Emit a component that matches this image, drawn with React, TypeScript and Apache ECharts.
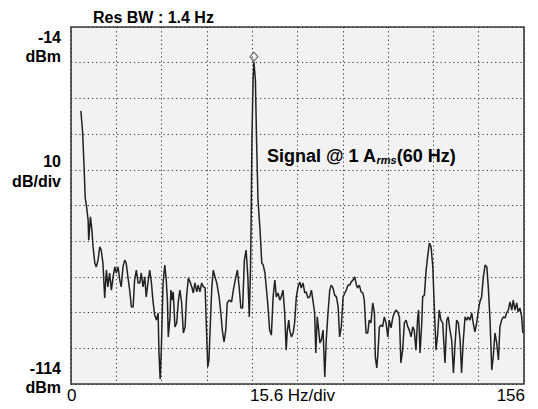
import React, { useEffect, useRef } from "react";
import * as echarts from "echarts";

// Spectrum trace: [frequency (Hz), level (dBm)]
const traceLow: [number, number][] = [
  [3.4, -37.5], [4.0, -43.4], [4.5, -53.2], [4.9, -61.9], [5.3, -63.9], [5.9, -68.1],
  [6.1, -73.7], [6.7, -67.2], [7.2, -70.9], [7.6, -75.6], [8.2, -80.1], [8.7, -81.2],
  [9.3, -79.3], [9.9, -75.6], [10.4, -76.5], [11.0, -80.1], [11.6, -89.9], [12.2, -82.1],
  [12.7, -86.8], [13.3, -82.9], [13.9, -87.7], [14.5, -84.0], [15.1, -81.2], [15.6, -82.9],
  [16.2, -81.2], [16.8, -84.9], [17.3, -86.8], [17.9, -81.2], [18.5, -79.3], [19.0, -80.1],
  [19.6, -84.0], [20.2, -87.7], [20.8, -92.4], [21.4, -92.4], [21.9, -84.9], [22.5, -82.1],
  [23.1, -85.7], [23.7, -85.7], [24.2, -82.9], [24.8, -86.8], [25.4, -84.0], [25.9, -89.6],
  [26.5, -85.7], [27.1, -82.1], [27.7, -85.7], [28.2, -90.5], [28.8, -94.7], [29.4, -96.1],
  [30.0, -94.1], [30.3, -105.3], [30.7, -112.6], [31.1, -104.5], [31.7, -85.7], [32.3, -80.7],
  [32.8, -84.9], [33.2, -90.5], [33.5, -100.8], [34.1, -95.2], [34.4, -87.7], [34.9, -90.5],
  [35.2, -88.2], [35.8, -98.0], [36.4, -96.9], [37.0, -90.5], [37.5, -87.7], [38.1, -91.3],
  [38.7, -99.7], [39.3, -98.0], [39.8, -89.6], [40.4, -84.3], [41.0, -85.4], [41.6, -86.8],
  [42.1, -88.5], [42.7, -85.7], [43.3, -88.2], [43.8, -86.3], [44.4, -88.2], [45.0, -85.7],
  [45.6, -86.8], [46.2, -87.1], [46.7, -99.7], [47.1, -109.2], [47.5, -107.3], [47.9, -98.9],
  [48.5, -86.8], [49.0, -82.1], [49.6, -84.0], [50.2, -85.7], [51.0, -89.6], [51.6, -94.1],
  [52.1, -98.9], [52.7, -102.2], [53.3, -98.9], [53.8, -91.3], [54.5, -90.5], [55.3, -91.0],
  [55.9, -87.7], [56.7, -84.3], [57.3, -82.1], [57.9, -86.8], [58.5, -92.7], [59.1, -92.7],
  [59.7, -79.3], [60.3, -76.5], [60.9, -84.0], [61.4, -95.2],
];

const traceCarrier: [number, number][] = [
  [61.8, -82.1], [62.0, -70.9], [62.3, -45.7], [62.7, -28.8], [63.0, -23.8], [63.5, -28.8],
  [63.9, -45.7], [64.4, -62.5], [65.1, -70.9], [65.7, -80.1], [66.2, -80.7], [66.8, -82.9],
];

const traceHigh: [number, number][] = [
  [67.8, -91.9], [68.4, -98.9], [69.0, -100.3], [69.6, -89.6], [70.2, -84.9], [70.7, -89.6],
  [71.3, -88.5], [71.9, -90.5], [72.4, -89.6], [73.0, -87.7], [73.6, -94.1], [74.1, -104.5],
  [74.5, -98.9], [75.0, -96.1], [75.3, -98.9], [75.9, -100.8], [76.5, -99.7], [77.0, -96.9],
  [77.6, -89.6], [78.2, -86.8], [78.8, -85.4], [79.3, -87.1], [79.9, -85.7], [80.5, -88.5],
  [81.0, -88.2], [81.6, -89.9], [82.2, -89.6], [82.8, -87.7], [83.3, -90.5], [83.9, -94.1],
  [84.3, -105.3], [84.8, -95.2], [85.3, -98.9], [85.7, -102.5], [86.2, -101.7], [86.8, -98.9],
  [87.4, -112.0], [87.9, -101.7], [88.5, -94.1], [89.1, -87.7], [89.6, -86.3], [90.2, -87.1],
  [90.8, -89.1], [91.4, -89.6], [92.0, -92.4], [92.5, -100.8], [93.1, -98.0], [93.7, -89.6],
  [94.3, -88.5], [94.8, -87.7], [95.4, -86.3], [96.0, -86.3], [96.5, -85.4], [97.1, -84.9],
  [97.7, -84.0], [98.3, -86.3], [98.7, -87.1], [99.3, -86.3], [99.9, -88.2], [100.5, -88.5],
  [101.0, -90.5], [101.6, -99.7], [102.2, -99.7], [102.7, -96.1], [103.3, -96.9], [103.9, -91.3],
  [104.5, -94.1], [104.8, -106.4], [105.3, -109.5], [105.7, -105.3], [106.2, -98.0], [106.8, -97.5],
  [107.3, -98.0], [107.9, -95.2], [108.5, -96.9], [109.1, -100.8], [109.6, -96.1], [110.2, -98.3],
  [110.8, -95.5], [111.3, -94.1], [111.9, -93.3], [112.5, -93.8], [113.1, -95.2], [113.6, -108.1],
  [114.2, -104.5], [114.8, -96.9], [115.4, -96.1], [116.0, -98.0], [116.5, -98.9], [117.1, -100.8],
  [117.7, -98.0], [118.2, -98.9], [118.8, -104.5], [119.4, -95.2], [119.7, -93.3], [120.2, -105.3],
  [120.8, -96.9], [121.1, -89.6], [121.7, -89.1], [122.3, -82.1], [122.8, -78.4], [123.4, -74.5],
  [124.0, -75.6], [124.6, -81.2], [125.1, -92.4], [125.7, -104.5], [126.3, -99.7], [126.8, -93.3],
  [127.4, -96.1], [128.0, -96.9], [128.6, -105.3], [128.8, -108.1], [129.4, -96.1], [129.9, -95.2],
  [130.5, -98.9], [131.1, -101.7], [131.7, -110.9], [132.2, -103.6], [132.8, -96.1], [133.4, -96.9],
  [134.0, -101.7], [134.5, -110.9], [135.1, -101.7], [135.7, -95.2], [136.3, -96.1], [136.8, -95.2],
  [137.4, -96.1], [138.0, -94.1], [138.5, -96.9], [139.1, -99.4], [139.7, -96.9], [140.3, -93.3],
  [140.8, -91.0], [141.4, -89.6], [142.0, -84.0], [142.6, -80.7], [143.2, -81.2], [143.7, -86.8],
  [144.3, -96.1], [144.9, -110.1], [145.4, -106.4], [146.0, -99.7], [146.6, -102.5], [147.2, -107.3],
  [147.7, -98.0], [148.3, -96.1], [148.9, -95.2], [149.5, -95.5], [150.0, -94.1], [150.6, -93.3],
  [151.2, -91.0], [151.8, -93.3], [152.3, -90.5], [152.9, -93.3], [153.5, -91.3], [154.0, -93.8],
  [154.6, -92.7], [155.2, -95.2], [155.6, -99.7],
];

// Peak marker (diamond) position
const peakMarker: [number, number][] = [[63.0, -22.3]];

// Axis ranges
const freqRange = [0, 156];
const levelRange = [-114, -14];
const divisions = 10;

// Texts
const titleText = "Res BW : 1.4 Hz";
const refLevelLabel = ["-14", "dBm"];
const scaleLabel = ["10", "dB/div"];
const bottomLevelLabel = ["-114", "dBm"];
const xStartLabel = "0";
const xScaleLabel = "15.6 Hz/div";
const xEndLabel = "156";
const signalMain = "Signal @ 1 A";
const signalSub = "rms";
const signalTail = "(60 Hz)";

const FONT = "Arial, 'Liberation Sans', Helvetica, sans-serif";

export default function App() {
  const ref = useRef<HTMLDivElement>(null);

  useEffect(() => {
    if (!ref.current) return;
    const chart = echarts.init(ref.current, null, { renderer: "svg" });
    const trace = [...traceLow, ...traceCarrier, ...traceHigh];
    const dotted = { type: [1.2, 3] as any, color: "#333", width: 1 };

    const leftText = (text: string, y: number) => ({
      type: "text",
      right: 538 - 61,
      top: y,
      style: { text, font: `bold 16px ${FONT}`, fill: "#000", textAlign: "right" },
    });

    chart.setOption({
      animation: false,
      backgroundColor: "#ffffff",
      grid: {
        left: 71,
        right: 14,
        top: 27,
        bottom: 25,
        show: true,
        backgroundColor: "#f2f2f2",
        borderColor: "#3a3a3a",
        borderWidth: 1.6,
      },
      xAxis: [
        {
          type: "value",
          min: freqRange[0],
          max: freqRange[1],
          axisLabel: { show: false },
          axisLine: { show: false },
          axisTick: { show: false },
          splitLine: { show: false },
        },
        {
          type: "value",
          position: "top",
          min: 0,
          max: divisions,
          interval: 1,
          axisLabel: { show: false },
          axisLine: { show: false },
          axisTick: { show: false },
          splitLine: { show: true, lineStyle: dotted },
        },
      ],
      yAxis: [
        {
          type: "value",
          min: levelRange[0],
          max: levelRange[1],
          axisLabel: { show: false },
          axisLine: { show: false },
          axisTick: { show: false },
          splitLine: { show: false },
        },
        {
          type: "value",
          position: "right",
          min: 0,
          max: divisions,
          interval: 1,
          axisLabel: { show: false },
          axisLine: { show: false },
          axisTick: { show: false },
          splitLine: { show: true, lineStyle: dotted },
        },
      ],
      series: [
        {
          type: "line",
          xAxisIndex: 0,
          yAxisIndex: 0,
          data: trace,
          showSymbol: false,
          symbol: "none",
          lineStyle: { color: "#222", width: 1.5 },
          silent: true,
        },
        {
          type: "scatter",
          xAxisIndex: 0,
          yAxisIndex: 0,
          data: peakMarker,
          symbol: "diamond",
          symbolSize: [8, 9],
          itemStyle: { color: "rgba(0,0,0,0)", borderColor: "#333", borderWidth: 1 },
          silent: true,
        },
      ],
      graphic: [
        {
          type: "text",
          left: 93,
          top: 9,
          style: { text: titleText, font: `bold 16px ${FONT}`, fill: "#000" },
        },
        leftText(refLevelLabel[0], 29),
        leftText(refLevelLabel[1], 48),
        leftText(scaleLabel[0], 153),
        leftText(scaleLabel[1], 173),
        leftText(bottomLevelLabel[0], 360),
        leftText(bottomLevelLabel[1], 379),
        {
          type: "text",
          left: 67,
          top: 387,
          style: { text: xStartLabel, font: `17px ${FONT}`, fill: "#000" },
        },
        {
          type: "text",
          left: 250,
          top: 387,
          style: { text: xScaleLabel, font: `17px ${FONT}`, fill: "#000" },
        },
        {
          type: "text",
          right: 13,
          top: 387,
          style: { text: xEndLabel, font: `17px ${FONT}`, fill: "#000" },
        },
        {
          type: "text",
          left: 267,
          top: 147,
          style: {
            text: `{a|${signalMain}}{b|${signalSub}}{a|${signalTail}}`,
            rich: {
              a: { fontFamily: FONT, fontSize: 18, fontWeight: "bold", fill: "#000", color: "#000" },
              b: {
                fontFamily: FONT,
                fontSize: 11,
                fontWeight: "bold",
                fontStyle: "italic",
                color: "#000",
                fill: "#000",
                verticalAlign: "bottom",
                padding: [6, 0, 0, 0],
              },
            },
          },
        },
      ],
    });

    return () => chart.dispose();
  }, []);

  return (
    <div
      ref={ref}
      style={{ position: "fixed", left: 0, top: 0, width: 538, height: 409 }}
    />
  );
}
